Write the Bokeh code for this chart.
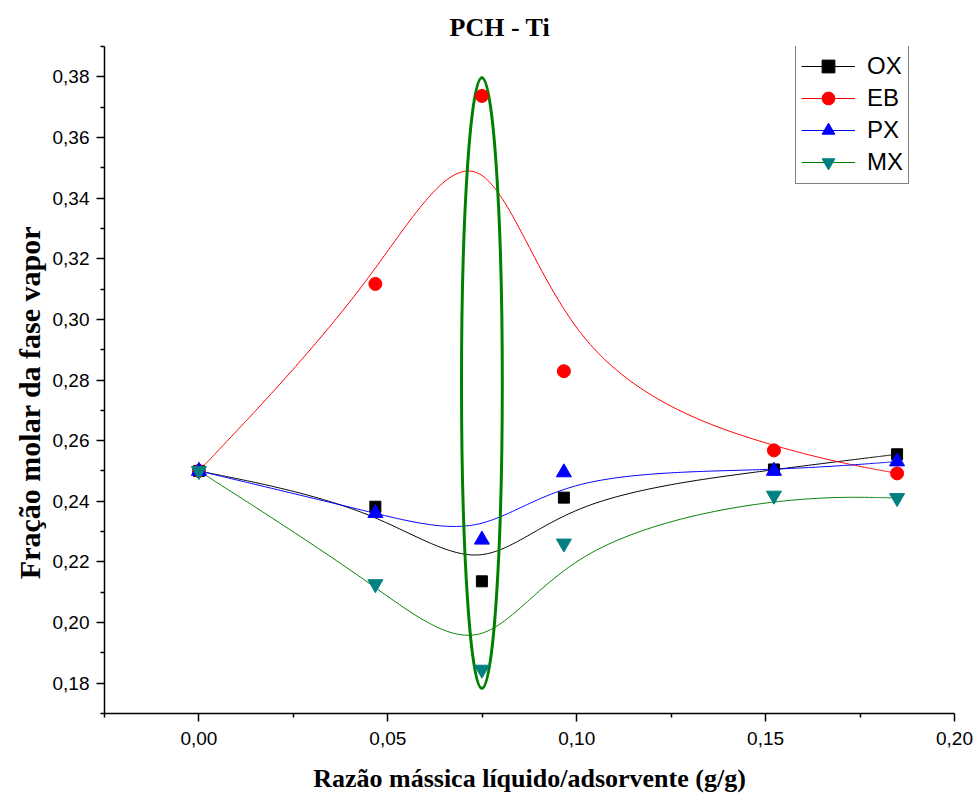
import numpy as np
from bokeh.plotting import figure
from bokeh.models import (FixedTicker, CustomJSTickFormatter, Legend, LegendItem,
                          Range1d)
from bokeh.embed import file_html
from bokeh.resources import INLINE

# ---------------- data ----------------
x_ratio = [0.0, 0.0467, 0.0749, 0.0966, 0.1522, 0.1848]
ox = [0.2500, 0.2382, 0.2136, 0.2412, 0.2505, 0.2555]
eb = [0.2500, 0.3117, 0.3737, 0.2829, 0.2568, 0.2492]
px = [0.2500, 0.2361, 0.2273, 0.2495, 0.2500, 0.2531]
mx = [0.2500, 0.2127, 0.1845, 0.2261, 0.2419, 0.2411]

series_names = ["OX", "EB", "PX", "MX"]

x_ticks = [0.00, 0.05, 0.10, 0.15, 0.20]
x_minor = [-0.025, 0.025, 0.075, 0.125, 0.175]
y_ticks = [0.18, 0.20, 0.22, 0.24, 0.26, 0.28, 0.30, 0.32, 0.34, 0.36, 0.38]
y_minor = [0.17, 0.19, 0.21, 0.23, 0.25, 0.27, 0.29, 0.31, 0.33, 0.35, 0.37, 0.39]

# highlight ellipse (annotation) around the 3rd sample
hl_y_center = 0.279
hl_width = 0.0108
hl_height = 0.2014


def bspline(xs, ys, n=60):
    """Uniform cubic B-spline using the data points as control points
    (end points tripled so the curve starts/ends on them)."""
    P = np.column_stack([xs, ys]).astype(float)
    P = np.vstack([P[0], P[0], P, P[-1], P[-1]])
    u = np.linspace(0, 1, n)
    b0 = (1 - u) ** 3 / 6
    b1 = (3 * u ** 3 - 6 * u ** 2 + 4) / 6
    b2 = (-3 * u ** 3 + 3 * u ** 2 + 3 * u + 1) / 6
    b3 = u ** 3 / 6
    out = []
    for i in range(len(P) - 3):
        seg = (np.outer(b0, P[i]) + np.outer(b1, P[i + 1]) +
               np.outer(b2, P[i + 2]) + np.outer(b3, P[i + 3]))
        out.append(seg if i == 0 else seg[1:])
    c = np.vstack(out)
    return c[:, 0], c[:, 1]


p = figure(width=977, height=804, output_backend="svg", toolbar_location=None,
           x_range=Range1d(-0.025, 0.2), y_range=Range1d(0.17, 0.39),
           min_border_left=104, min_border_right=23,
           min_border_top=46, min_border_bottom=91)

p.title.text = "PCH - Ti"
p.title.align = "left"
p.title.offset = 345
p.title.text_font = "Liberation Serif"
p.title.text_font_size = "26px"
p.title.text_font_style = "bold"
p.title.text_color = "black"

p.xgrid.visible = False
p.ygrid.visible = False
p.outline_line_color = None
p.background_fill_color = "white"

fmt = CustomJSTickFormatter(code="return tick.toFixed(2).replace('.', ',');")

for ax, ticks, minor in ((p.xaxis[0], x_ticks, x_minor), (p.yaxis[0], y_ticks, y_minor)):
    ax.ticker = FixedTicker(ticks=ticks, minor_ticks=minor)
    ax.formatter = fmt
    ax.axis_line_width = 1.5
    ax.axis_line_color = "black"
    ax.major_tick_line_width = 1.5
    ax.minor_tick_line_width = 1.5
    ax.major_tick_line_color = "black"
    ax.minor_tick_line_color = "black"
    ax.major_tick_in = 0
    ax.major_tick_out = 8
    ax.minor_tick_in = 0
    ax.minor_tick_out = 4
    ax.major_label_text_font = "Liberation Sans"
    ax.major_label_text_font_size = "19px"
    ax.major_label_text_color = "black"
    ax.axis_label_text_font = "Liberation Serif"
    ax.axis_label_text_font_style = "bold"
    ax.axis_label_text_color = "black"

p.xaxis[0].axis_label = "Razão mássica líquido/adsorvente (g/g)"
p.xaxis[0].axis_label_text_font_size = "26px"
p.xaxis[0].major_label_standoff = 10
p.xaxis[0].axis_label_standoff = 16
# trailing no-break spaces nudge the centred label toward the bottom, as in the reference
p.yaxis[0].axis_label = "Fração molar da fase vapor" + "\u00a0" * 6
p.yaxis[0].axis_label_text_font_size = "30px"
p.yaxis[0].major_label_standoff = 7
p.yaxis[0].axis_label_standoff = 4

styles = [
    (ox, "black", "black", "square", 11),
    (eb, "#FF0000", "#FF0000", "circle", 13),
    (px, "#0000FF", "#0000FF", "triangle", 15),
    (mx, "#008000", "#008080", "inverted_triangle", 15),
]

lines = []
for ys, lc, mc, mk, sz in styles:
    cx, cy = bspline(x_ratio, ys)
    lines.append(p.line(cx, cy, line_color=lc, line_width=1))

p.ellipse(x=[x_ratio[2]], y=[hl_y_center], width=[hl_width], height=[hl_height],
          fill_color=None, line_color="#008000", line_width=3)

marks = []
for ys, lc, mc, mk, sz in styles:
    marks.append(p.scatter(x_ratio, ys, marker=mk, size=sz,
                           fill_color=mc, line_color=mc))

items = [LegendItem(label=n, renderers=[l, m])
         for n, l, m in zip(series_names, lines, marks)]
legend = Legend(items=items, location=(691, 529),
                label_text_font="Liberation Sans", label_text_font_size="24px",
                label_text_color="black",
                glyph_width=54, glyph_height=32, label_height=20,
                label_standoff=12, spacing=0, padding=5, margin=0,
                border_line_color="black", border_line_width=1,
                background_fill_color="white", background_fill_alpha=1.0)
p.add_layout(legend)

open("out.html", "w").write(file_html(p, INLINE))
